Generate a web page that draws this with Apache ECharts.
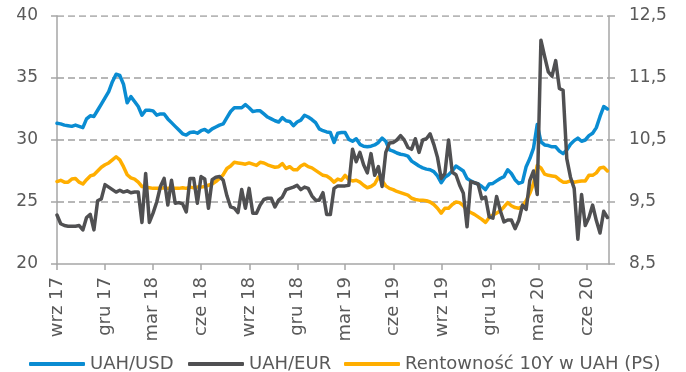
<!DOCTYPE html>
<html>
<head>
<meta charset="utf-8">
<script src="https://cdn.jsdelivr.net/npm/echarts@6/dist/echarts.min.js"></script>
<style>
  html, body { margin: 0; padding: 0; background: #ffffff; }
  #chart { width: 686px; height: 372px; }
</style>
</head>
<body>
<div id="chart"></div>
<script>
// Weekly observations (Fridays), first one on 1 Sep 2017
const firstWeek = [2017, 8, 1];
const weekCount = 150;

// UAH per USD (left axis)
const uahUsd = [
  26.65, 26.75, 26.6, 26.6, 26.85, 26.9, 26.6, 26.45, 26.8, 27.1,
  27.2, 27.5, 27.8, 28.0, 28.15, 28.4, 28.65, 28.4, 27.85, 27.2,
  26.95, 26.85, 26.6, 26.25, 26.2, 26.15, 26.1, 26.1, 26.1, 26.15,
  26.1, 26.1, 26.1, 26.1, 26.15, 26.1, 26.2, 26.15, 26.2, 26.2,
  26.25, 26.35, 26.45, 26.65, 26.9, 27.2, 27.7, 27.9, 28.2, 28.15,
  28.1, 28.05, 28.15, 28.05, 27.95, 28.2, 28.15, 28.0, 27.9, 27.8,
  27.85, 28.1, 27.7, 27.85, 27.6, 27.6, 27.9, 28.05, 27.85, 27.75,
  27.55, 27.35, 27.15, 27.1, 26.9, 26.6, 26.85, 26.75, 27.15, 26.8,
  26.7, 26.75, 26.6, 26.35, 26.15, 26.25, 26.45, 27.0, 26.7, 26.3,
  26.1, 26.0, 25.85, 25.75, 25.65, 25.55, 25.3, 25.2, 25.15, 25.15,
  25.1, 25.0, 24.8, 24.5, 24.1, 24.5, 24.5, 24.8, 25.0, 24.95,
  24.7, 24.3, 24.15, 24.0, 23.8, 23.6, 23.35, 23.75, 23.95, 24.1,
  24.3, 24.6, 24.95, 24.7, 24.55, 24.5, 24.65, 25.1, 25.7, 26.5,
  27.95, 27.75, 27.25, 27.15, 27.1, 27.05, 26.8, 26.6, 26.6, 26.7,
  26.6, 26.65, 26.7, 26.7, 27.15, 27.15, 27.35, 27.75, 27.8, 27.5
];

// UAH per EUR (left axis)
const uahEur = [
  31.35, 31.3, 31.2, 31.15, 31.1, 31.2, 31.1, 31.0, 31.7, 31.95,
  31.9, 32.4, 32.9, 33.4, 33.9, 34.7, 35.3, 35.2, 34.5, 33.0,
  33.5, 33.1, 32.7, 32.0, 32.4, 32.4, 32.35, 32.0, 32.1, 32.1,
  31.7, 31.4, 31.1, 30.8, 30.5, 30.4, 30.6, 30.65, 30.55, 30.75,
  30.85, 30.65, 30.9, 31.05, 31.2, 31.3, 31.8, 32.3, 32.6, 32.6,
  32.6, 32.85, 32.6, 32.3, 32.35, 32.35, 32.1, 31.85, 31.7, 31.55,
  31.45, 31.8, 31.55, 31.5, 31.15, 31.45, 31.6, 32.0, 31.85, 31.65,
  31.4, 30.9, 30.75, 30.65, 30.6, 29.8, 30.55, 30.6, 30.6, 30.05,
  29.9, 30.1, 29.65, 29.5, 29.45, 29.5, 29.6, 29.8, 30.15, 29.9,
  29.2, 29.1, 28.95, 28.85, 28.8, 28.7, 28.3, 28.1, 27.9, 27.75,
  27.65, 27.6, 27.45, 27.1, 26.55, 27.0, 27.2, 27.5, 27.9, 27.7,
  27.5, 26.9, 26.7, 26.55, 26.45, 26.25, 26.0, 26.45, 26.5, 26.7,
  26.9, 27.05, 27.6, 27.3, 26.8, 26.5, 26.6, 27.85, 28.5, 29.35,
  31.25, 29.85, 29.6, 29.55, 29.45, 29.45, 29.1, 28.9, 29.2, 29.65,
  29.95, 30.15, 29.9, 30.0, 30.35, 30.55, 31.0, 31.9, 32.7, 32.5
];

// 10Y UAH government bond yield, % (right axis)
const yield10y = [
  9.29, 9.15, 9.12, 9.11, 9.11, 9.11, 9.12, 9.05, 9.25, 9.3,
  9.05, 9.52, 9.55, 9.78, 9.74, 9.7, 9.66, 9.69, 9.66, 9.68,
  9.65, 9.66, 9.66, 9.17, 9.96, 9.17, 9.32, 9.5, 9.75, 9.88,
  9.45, 9.85, 9.48, 9.49, 9.47, 9.34, 9.88, 9.88, 9.48, 9.91,
  9.87, 9.4, 9.86, 9.9, 9.91, 9.85, 9.6, 9.42, 9.4, 9.33,
  9.7, 9.4, 9.72, 9.32, 9.32, 9.45, 9.54, 9.56, 9.56, 9.42,
  9.53, 9.58, 9.7, 9.72, 9.74, 9.77, 9.7, 9.74, 9.72, 9.6,
  9.53, 9.53, 9.65, 9.3, 9.3, 9.72, 9.76, 9.76, 9.76, 9.77,
  10.35, 10.15, 10.3, 10.1, 9.97, 10.28, 9.93, 10.07, 9.75, 10.3,
  10.45, 10.46, 10.5, 10.57, 10.5, 10.38, 10.35, 10.52, 10.3, 10.5,
  10.52, 10.6, 10.43, 10.22, 9.88, 9.96, 10.5, 9.98, 9.94, 9.77,
  9.64, 9.1, 9.83, 9.81, 9.79, 9.55, 9.58, 9.26, 9.24, 9.59,
  9.36, 9.18, 9.21, 9.21, 9.07, 9.2, 9.45, 9.38, 9.85, 10.0,
  9.62, 12.11, 11.85, 11.6, 11.53, 11.78, 11.33, 11.3, 10.2, 9.9,
  9.72, 8.9, 9.62, 9.12, 9.25, 9.45, 9.2, 9.0, 9.35, 9.25
];

// Quarterly tick marks on the date axis: [year, month index]
const tickMonths = [
  [2017, 8], [2017, 11], [2018, 2], [2018, 5], [2018, 8], [2018, 11],
  [2019, 2], [2019, 5], [2019, 8], [2019, 11], [2020, 2], [2020, 5]
];
const monthShort = ['sty', 'lut', 'mar', 'kwi', 'maj', 'cze', 'lip', 'sie', 'wrz', 'paź', 'lis', 'gru'];

// Left-axis levels that get a dashed horizontal gridline
const gridLevels = [25, 30, 35, 40];

const seriesNames = ['UAH/USD', 'UAH/EUR', 'Rentowność 10Y w UAH (PS)'];
const colors = ['#FFAE00', '#0A8CD2', '#505052'];

// Dates are kept as millisecond timestamps on a numeric axis
const weeks = [];
for (let i = 0; i < weekCount; i++) {
  weeks.push(new Date(firstWeek[0], firstWeek[1], firstWeek[2] + 7 * i).getTime());
}
const pairs = vals => vals.map((v, i) => [weeks[i], v]);
const tickValues = tickMonths.map(([y, m]) => new Date(y, m, 1).getTime());
const xMin = new Date(2017, 8, 1).getTime();
const xMax = new Date(2020, 6, 13).getTime();

const axisGrey = '#A6A6A6';
const textGrey = '#595959';
const font = 'DejaVu Sans';

const chart = echarts.init(document.getElementById('chart'));

const legendBase = {
  top: 350,
  orient: 'horizontal',
  icon: 'roundRect',
  itemWidth: 56,
  itemHeight: 4,
  textStyle: { color: textGrey, fontFamily: font, fontSize: 18 }
};

// Dashed gridlines as flat lines across the full date range, under the data
const gridSeries = gridLevels.map(v => ({
  name: 'grid ' + v,
  type: 'line',
  yAxisIndex: 0,
  data: [[xMin, v], [xMax, v]],
  showSymbol: false,
  silent: true,
  z: 1,
  emphasis: { disabled: true },
  lineStyle: { color: '#A0A0A0', width: 1.5, type: [7, 4] }
}));

chart.setOption({
  animation: false,
  color: colors,
  textStyle: { fontFamily: font },
  grid: { left: 57, right: 77, top: 16, bottom: 108 },
  legend: [
    Object.assign({}, legendBase, { left: 24, data: [seriesNames[0]] }),
    Object.assign({}, legendBase, { left: 183, data: [seriesNames[1]] }),
    Object.assign({}, legendBase, { left: 339, data: [seriesNames[2]] })
  ],
  xAxis: {
    type: 'value',
    min: xMin,
    max: xMax,
    axisLine: { show: true, lineStyle: { color: axisGrey, width: 1.5 } },
    axisTick: { show: true, customValues: tickValues, length: 6, lineStyle: { color: axisGrey, width: 1.5 } },
    axisLabel: {
      customValues: tickValues,
      rotate: 90,
      margin: 13,
      color: textGrey,
      fontFamily: font,
      fontSize: 18,
      formatter: v => {
        const d = new Date(v);
        return monthShort[d.getMonth()] + ' ' + String(d.getFullYear()).slice(2);
      }
    },
    splitLine: { show: false }
  },
  yAxis: [
    {
      type: 'value',
      min: 20, max: 40, interval: 5,
      axisLine: { show: true, lineStyle: { color: axisGrey, width: 1.5 } },
      axisTick: { show: true, length: 6, lineStyle: { color: axisGrey, width: 1.5 } },
      axisLabel: { margin: 19, color: textGrey, fontFamily: font, fontSize: 17 },
      splitLine: { show: false }
    },
    {
      type: 'value',
      min: 8.5, max: 12.5, interval: 1,
      axisLine: { show: true, lineStyle: { color: axisGrey, width: 1.5 } },
      axisTick: { show: true, length: 6, lineStyle: { color: axisGrey, width: 1.5 } },
      axisLabel: {
        margin: 20, color: textGrey, fontFamily: font, fontSize: 17,
        formatter: v => v.toFixed(1).replace('.', ',')
      },
      splitLine: { show: false }
    }
  ],
  series: gridSeries.concat([
    {
      name: seriesNames[0], type: 'line', yAxisIndex: 0, data: pairs(uahUsd), z: 2,
      showSymbol: false, lineStyle: { width: 3.5, color: colors[0], join: 'round', cap: 'round' }
    },
    {
      name: seriesNames[1], type: 'line', yAxisIndex: 0, data: pairs(uahEur), z: 2,
      showSymbol: false, lineStyle: { width: 3.5, color: colors[1], join: 'round', cap: 'round' }
    },
    {
      name: seriesNames[2], type: 'line', yAxisIndex: 1, data: pairs(yield10y), z: 2,
      showSymbol: false, lineStyle: { width: 3.5, color: colors[2], join: 'round', cap: 'round' }
    }
  ])
});
</script>
</body>
</html>
